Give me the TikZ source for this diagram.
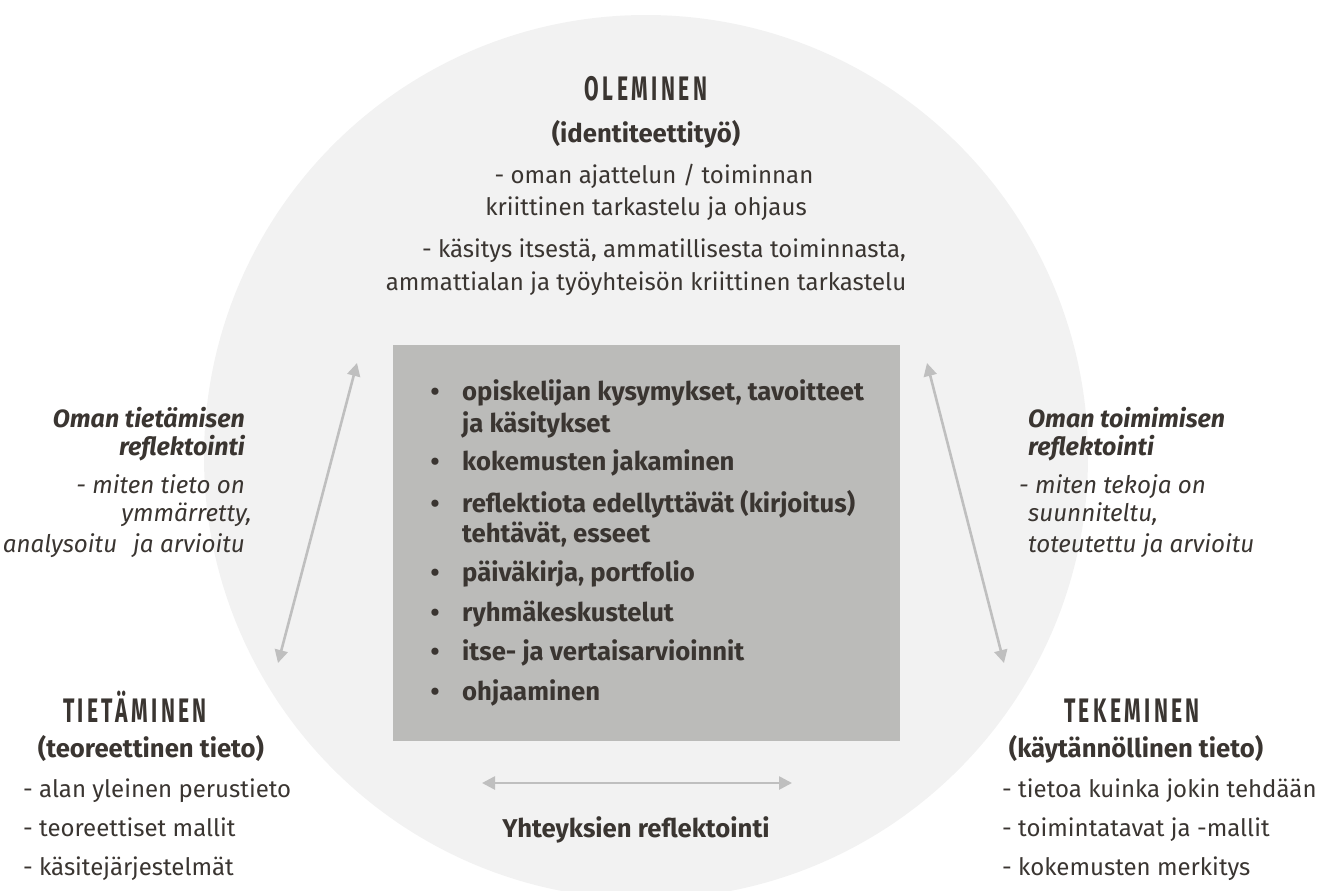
\documentclass[tikz,border=0pt]{standalone}
\usepackage{fontspec}
\setmainfont{Fira Sans}
\newfontfamily\headfont[FakeStretch=0.62,LetterSpace=10]{Fira Sans}
\usetikzlibrary{arrows.meta}

\definecolor{inktext}{HTML}{3A3531}
\definecolor{circlegray}{HTML}{F2F2F2}
\definecolor{boxgray}{HTML}{BBBBB9}
\definecolor{arrowgray}{HTML}{BFBFBF}

\begin{document}
\begin{tikzpicture}[
		x=1pt, y=-1pt,   % work in pixel units, y downwards
		line cap=round, line join=round,
		every node/.style={inner sep=0pt, text=inktext},
		body/.style={font=\fontsize{24}{24}\selectfont},
		bodybold/.style={font=\fontsize{25.7}{25.7}\selectfont\bfseries},
		bodyit/.style={font=\fontsize{24.2}{24.2}\selectfont\itshape},
		bodybi/.style={font=\fontsize{25}{25}\selectfont\bfseries\itshape},
		heading/.style={font=\headfont\bfseries\fontsize{34}{34}\selectfont},
		refarrow/.style={draw=arrowgray, line width=2.6pt,
			{Triangle[length=13pt,width=13pt]}-{Triangle[length=13pt,width=13pt]}},
		]
		
		\useasboundingbox (0,0) rectangle (1317,891);
		
		% ---------- Background circle and central box ----------
		\fill[circlegray] (646,457) circle[radius=442];
		\node[fill=boxgray, minimum width=507pt, minimum height=396pt] (box) at (646.5,543) {};
		
		% ---------- OLEMINEN (top) ----------
		\node[heading, anchor=base] (olem) at (646,100) {OLEMINEN};
		\node[bodybold, anchor=base] (olemsub) at (646,142) {(identiteettityö)};
		\node[body, anchor=base] (olemA) at (654,183) {- oman ajattelun / toiminnan};
		\node[body, anchor=base] (olemB) at (646,215) {kriittinen tarkastelu ja ohjaus};
		\node[body, anchor=base] (olemC) at (664,257) {- käsitys itsestä, ammatillisesta toiminnasta,};
		\node[body, anchor=base] (olemD) at (646,290) {ammattialan ja työyhteisön kriittinen tarkastelu};
		
		% ---------- Bullet list in the box ----------
		\foreach \yy [count=\i] in {400,470,512,581,621,660,700}
		\node[bodybold, anchor=base] (bul\i) at (435,\yy) {•};
		\foreach \yy/\txt [count=\i] in {
			400/{opiskelijan kysymykset, tavoitteet},
			432/{ja käsitykset},
			470/{kokemusten jakaminen},
			512/{reflektiota edellyttävät (kirjoitus)},
			542/{tehtävät, esseet},
			581/{päiväkirja, portfolio},
			621/{ryhmäkeskustelut},
			660/{itse- ja vertaisarvioinnit},
			700/{ohjaaminen}}
		\node[bodybold, anchor=base west] (item\i) at (462,\yy) {\txt};
		
		% ---------- Left: TIETÄMINEN ----------
		\node[bodybi, anchor=base east] (tietrefA) at (245,427) {Oman tietämisen};
		\node[bodybi, anchor=base east] (tietrefB) at (245,455) {reflektointi};
		\node[bodyit, anchor=base east] (tietrefC) at (245,493) {- miten tieto on};
		\node[bodyit, anchor=base east] (tietrefD) at (252,521) {ymmärretty,};
		\node[bodyit, anchor=base east] (tietrefE) at (245,552) {analysoitu\hspace{16pt}ja arvioitu};
		
		\node[heading, anchor=base] (tiet) at (135,722) {TIETÄMINEN};
		\node[bodybold, anchor=base] (tietsub) at (151,757) {(teoreettinen tieto)};
		\node[body, anchor=base west] (tietA) at (23,797) {- alan yleinen perustieto};
		\node[body, anchor=base west] (tietB) at (23,836) {- teoreettiset mallit};
		\node[body, anchor=base west] (tietC) at (23,875) {- käsitejärjestelmät};
		
		% ---------- Right: TEKEMINEN ----------
		\node[bodybi, anchor=base west] (tekrefA) at (1028,427) {Oman toimimisen};
		\node[bodybi, anchor=base west] (tekrefB) at (1028,455) {reflektointi};
		\node[bodyit, anchor=base west] (tekrefC) at (1019,493) {- miten tekoja on};
		\node[bodyit, anchor=base west] (tekrefD) at (1028,521) {suunniteltu,};
		\node[bodyit, anchor=base west] (tekrefE) at (1028,552) {toteutettu ja arvioitu};
		
		\node[heading, anchor=base] (tek) at (1132,722) {TEKEMINEN};
		\node[bodybold, anchor=base] (teksub) at (1136,757) {(käytännöllinen tieto)};
		\node[body, anchor=base west] (tekA) at (1002,797) {- tietoa kuinka jokin tehdään};
		\node[body, anchor=base west] (tekB) at (1002,836) {- toimintatavat ja -mallit};
		\node[body, anchor=base west] (tekC) at (1002,875) {- kokemusten merkitys};
		
		% ---------- Reflection arrows ----------
		\coordinate (LT) at (357,363);
		\coordinate (LB) at (278,663);
		\coordinate (RT) at (927,363);
		\coordinate (RB) at (1004,663);
		\coordinate (HL) at (482,783);
		\coordinate (HR) at (792,783);
		\draw[refarrow] (LT) -- (LB);
		\draw[refarrow] (RT) -- (RB);
		\draw[refarrow] (HL) -- (HR);
		\node[bodybold, anchor=base] (yhteys) at (636,837) {Yhteyksien reflektointi};
		
	\end{tikzpicture}
\end{document}
